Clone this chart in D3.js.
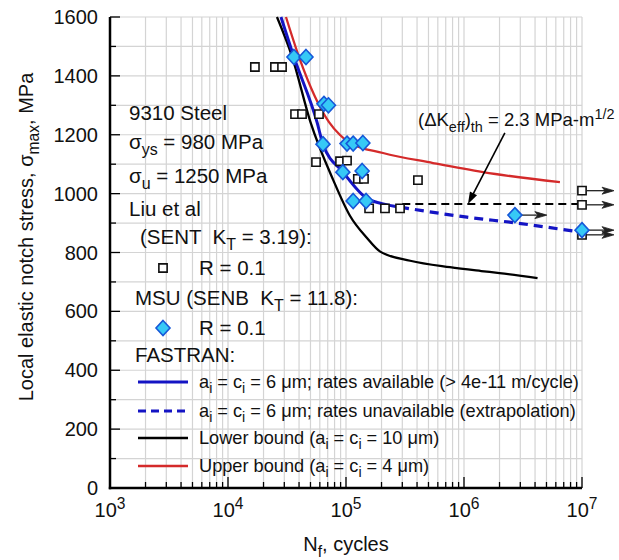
<!doctype html>
<html lang="en">
<head>
<meta charset="UTF-8">
<title>Notch stress vs life</title>
<style>
  html, body { margin: 0; padding: 0; background: #fff; }
  svg { display: block; font-family: 'Liberation Sans', Arial, sans-serif; }
  text { white-space: pre; }
</style>
</head>
<body>
<svg width="619" height="560"></svg>
<script src="https://d3js.org/d3.v7.min.js"></script>
<script>
// axis ticks
const xTickValues = [1e3, 1e4, 1e5, 1e6, 1e7];
const xTickExponents = ['3', '4', '5', '6', '7'];
const yTickValues = [0, 200, 400, 600, 800, 1000, 1200, 1400, 1600];

// Liu et al (SENT, KT = 3.19), R = 0.1
const liuCycles = [1.69e4, 2.5e4, 2.87e4, 3.7e4, 4.24e4, 5.9e4, 5.57e4, 8.9e4, 1.02e5,
                   1.26e5, 1.42e5, 4.07e5, 1.57e5, 2.14e5, 2.87e5, 1e7, 1e7, 1e7];
const liuStress = [1430, 1430, 1430, 1270, 1270, 1270, 1107, 1110, 1112,
                   1050, 1050, 1046, 950, 950, 950, 1010, 962, 860];
const liuRunout = [0, 0, 0, 0, 0, 0, 0, 0, 0, 0, 0, 0, 0, 0, 0, 1, 1, 1];

// MSU (SENB, KT = 11.8), R = 0.1
const msuCycles = [3.62e4, 4.58e4, 6.5e4, 7.1e4, 6.38e4, 1.02e5, 1.15e5, 1.39e5,
                   9.4e4, 1.37e5, 1.15e5, 1.48e5, 2.7e6, 1e7];
const msuStress = [1464, 1464, 1305, 1300, 1168, 1170, 1170, 1172,
                   1073, 1077, 975, 975, 927, 876];
const msuRunout = [0, 0, 0, 0, 0, 0, 0, 0, 0, 0, 0, 0, 1, 1];

// FASTRAN curves
const sixAvailCycles = [2.81e4, 3.62e4, 5.68e4, 6.38e4, 9.44e4, 1.51e5, 2.02e5, 2.87e5];
const sixAvailStress = [1600, 1464, 1243, 1168, 1073, 983, 966, 954];
const sixExtrapCycles = [2.87e5, 1.06e6, 2.81e6, 8.4e6];
const sixExtrapStress = [954, 920, 900, 873];
const lowerCycles = [2.6e4, 3.5e4, 5.0e4, 7.8e4, 1.08e5, 1.5e5, 1.95e5, 3.5e5, 7.6e5, 1.4e6, 2.0e6, 4.2e6];
const lowerStress = [1600, 1464, 1243, 1046, 925, 850, 803, 772, 750, 737, 730, 713];
const upperCycles = [3.1e4, 4.0e4, 7.18e4, 8.9e4, 1.08e5, 2.06e5, 5.46e5, 1.45e6, 6.5e6];
const upperStress = [1600, 1464, 1243, 1199, 1172, 1138, 1104, 1073, 1039];

// threshold line (dK_eff)th and its pointer
const thresholdCycles = [3e5, 1e7];
const thresholdStress = [965, 965];
const pointerCycles = [2.22e6, 1.08e6];
const pointerStress = [1206, 965];

const legendLabels = [
  [['a'], ['i', 'sub'], [' = c'], ['i', 'sub'], [' = 6 \u03bcm; rates available (> 4e-11 m/cycle)']],
  [['a'], ['i', 'sub'], [' = c'], ['i', 'sub'], [' = 6 \u03bcm; rates unavailable (extrapolation)']],
  [['Lower bound (a'], ['i', 'sub'], [' = c'], ['i', 'sub'], [' = 10 \u03bcm)']],
  [['Upper bound (a'], ['i', 'sub'], [' = c'], ['i', 'sub'], [' = 4 \u03bcm)']]
];

const BLUE = '#1414c4', RED = '#d42a2a', BLACK = '#000';

const svg = d3.select('svg');
svg.append('rect').attr('width', 619).attr('height', 560).attr('fill', '#fff');

const x = d3.scaleLog().domain([1e3, 1e7]).range([110, 582]);
const y = d3.scaleLinear().domain([0, 1600]).range([488, 17]);

// rich text helper: parts of [text, 'sub'|'sup']
function richText(g, px, py, parts, size, anchor) {
  const t = g.append('text').attr('x', px).attr('y', py)
    .attr('font-size', size).attr('text-anchor', anchor || 'start').attr('fill', '#111');
  let shift = 0;
  parts.forEach(([s, kind]) => {
    const target = kind === 'sub' ? size * 0.3 : kind === 'sup' ? -size * 0.4 : 0;
    t.append('tspan')
      .attr('dy', target - shift)
      .attr('font-size', kind ? size * 0.78 : size)
      .text(s);
    shift = target;
  });
  return t;
}

// grid
const gridX = [];
for (let k = 3; k < 7; k++) for (let n = 1; n <= 9; n++) gridX.push(n * Math.pow(10, k));
gridX.push(1e7);
const gridY = d3.range(100, 1601, 100);

const grid = svg.append('g').attr('stroke', '#d4d4d4').attr('stroke-width', 1.2);
grid.selectAll('line.gx').data(gridX).enter().append('line')
  .attr('x1', d => x(d)).attr('x2', d => x(d)).attr('y1', y(0)).attr('y2', y(1600));
grid.selectAll('line.gy').data(gridY).enter().append('line')
  .attr('y1', d => y(d)).attr('y2', d => y(d)).attr('x1', x(1e3)).attr('x2', x(1e7));

// axes
const axes = svg.append('g').attr('stroke', '#000');
axes.selectAll('line.xt').data(gridX).enter().append('line')
  .attr('x1', d => x(d)).attr('x2', d => x(d))
  .attr('y1', y(0)).attr('y2', d => y(0) - (xTickValues.includes(d) ? 11 : 6))
  .attr('stroke-width', 1.3);
axes.selectAll('line.yt').data(d3.range(0, 1601, 100)).enter().append('line')
  .attr('y1', d => y(d)).attr('y2', d => y(d))
  .attr('x1', x(1e3)).attr('x2', d => x(1e3) + (d % 200 === 0 ? 10 : 6))
  .attr('stroke-width', 1.3);
axes.append('line').attr('x1', x(1e3)).attr('x2', x(1e3)).attr('y1', y(1600)).attr('y2', y(0) + 1.2).attr('stroke-width', 2.5);
axes.append('line').attr('x1', x(1e3) - 1.2).attr('x2', x(1e7)).attr('y1', y(0)).attr('y2', y(0)).attr('stroke-width', 2.5);

// tick labels
xTickValues.forEach((v, i) => {
  richText(svg, x(v), 517, [['10'], [xTickExponents[i], 'sup']], 20, 'middle');
});
svg.selectAll('text.yl').data(yTickValues).enter().append('text')
  .attr('x', 98).attr('y', d => y(d) + 7).attr('text-anchor', 'end')
  .attr('font-size', 20).attr('fill', '#111').text(d => d);

// axis titles
richText(svg, 346, 551, [['N'], ['f', 'sub'], [', cycles']], 20, 'middle');
const yTitle = svg.append('g').attr('transform', 'translate(33,237) rotate(-90)');
richText(yTitle, 0, 0, [['Local elastic notch stress, \u03c3'], ['max', 'sub'], [', MPa']], 20, 'middle');

// material / data source notes
const notes = svg.append('g');
richText(notes, 129, 120, [['9310 Steel']], 20.5);
richText(notes, 129, 149, [['\u03c3'], ['ys', 'sub'], [' = 980 MPa']], 20.5);
richText(notes, 129, 183, [['\u03c3'], ['u', 'sub'], [' = 1250 MPa']], 20.5);
richText(notes, 129, 216, [['Liu et al']], 20.5);
richText(notes, 140, 244, [['(SENT  K'], ['T', 'sub'], [' = 3.19):']], 20.5);
richText(notes, 199, 275, [['R = 0.1']], 20.5);
richText(notes, 135, 305, [['MSU (SENB  K'], ['T', 'sub'], [' = 11.8):']], 20.5);
richText(notes, 199, 335, [['R = 0.1']], 20.5);
richText(notes, 135, 362, [['FASTRAN:']], 20.5);

// legend
const legendY = [382, 411, 438, 466];
const legendStyles = [
  { stroke: BLUE, width: 3, dash: null },
  { stroke: BLUE, width: 3, dash: '8,5' },
  { stroke: BLACK, width: 2.4, dash: null },
  { stroke: RED, width: 2.4, dash: null }
];
legendLabels.forEach((parts, i) => {
  const st = legendStyles[i];
  svg.append('line').attr('x1', 138).attr('x2', 188)
    .attr('y1', legendY[i]).attr('y2', legendY[i])
    .attr('stroke', st.stroke).attr('stroke-width', st.width)
    .attr('stroke-dasharray', st.dash);
  richText(svg, 199, legendY[i] + 6, parts, 18.2);
});

// curves
const line = d3.line().x(d => x(d[0])).y(d => y(d[1])).curve(d3.curveMonotoneX);
const curve = (n, s) => n.map((v, i) => [v, s[i]]);
const curves = svg.append('g').attr('fill', 'none');
curves.append('path').attr('d', line(curve(lowerCycles, lowerStress)))
  .attr('stroke', BLACK).attr('stroke-width', 2.3);
curves.append('path').attr('d', line(curve(upperCycles, upperStress)))
  .attr('stroke', RED).attr('stroke-width', 2.3);
curves.append('path').attr('d', line(curve(sixAvailCycles, sixAvailStress)))
  .attr('stroke', BLUE).attr('stroke-width', 3);
curves.append('path').attr('d', line(curve(sixExtrapCycles, sixExtrapStress)))
  .attr('stroke', BLUE).attr('stroke-width', 3.2).attr('stroke-dasharray', '9,6');
curves.append('path').attr('d', d3.line().x(d => x(d[0])).y(d => y(d[1]))(curve(thresholdCycles, thresholdStress)))
  .attr('stroke', BLACK).attr('stroke-width', 2).attr('stroke-dasharray', '8,5');

// runout arrows
function runoutArrow(cx, cy) {
  const g = svg.append('g').attr('stroke', '#222').attr('fill', '#222');
  g.append('line').attr('x1', cx + 5).attr('x2', cx + 30).attr('y1', cy).attr('y2', cy).attr('stroke-width', 1.3);
  g.append('path').attr('d', `M${cx + 32},${cy} L${cx + 20},${cy - 3.5} L${cx + 23},${cy} L${cx + 20},${cy + 3.5} Z`)
    .attr('stroke-width', 0.8);
}
liuCycles.forEach((n, i) => { if (liuRunout[i]) runoutArrow(x(n), y(liuStress[i])); });
msuCycles.forEach((n, i) => { if (msuRunout[i]) runoutArrow(x(n), y(msuStress[i])); });

// markers
const squarePath = d3.symbol().type(d3.symbolSquare).size(68);
const diamondPath = 'M0,-7.5 L7,0 L0,7.5 L-7,0 Z';
function square(cx, cy) {
  svg.append('path').attr('d', squarePath()).attr('transform', `translate(${cx},${cy})`)
    .attr('fill', '#fff').attr('stroke', '#111').attr('stroke-width', 1.6);
}
function diamond(cx, cy) {
  svg.append('path').attr('d', diamondPath).attr('transform', `translate(${cx},${cy})`)
    .attr('fill', '#36c9f6').attr('stroke', '#1658d8').attr('stroke-width', 1.6);
}
liuCycles.forEach((n, i) => square(x(n), y(liuStress[i])));
msuCycles.forEach((n, i) => diamond(x(n), y(msuStress[i])));
square(163, 268);
diamond(163, 328);

// threshold annotation
const px0 = x(pointerCycles[0]), py0 = y(pointerStress[0]);
const px1 = x(pointerCycles[1]), py1 = y(pointerStress[1]);
const ang = Math.atan2(py1 - py0, px1 - px0);
const hl = 12, hw = 4;
svg.append('line').attr('x1', px0).attr('y1', py0)
  .attr('x2', px1 - Math.cos(ang) * 8).attr('y2', py1 - Math.sin(ang) * 8)
  .attr('stroke', '#000').attr('stroke-width', 1.6);
svg.append('path').attr('fill', '#000')
  .attr('d', `M${px1},${py1} L${px1 - hl * Math.cos(ang) - hw * Math.sin(ang)},${py1 - hl * Math.sin(ang) + hw * Math.cos(ang)} L${px1 - hl * Math.cos(ang) + hw * Math.sin(ang)},${py1 - hl * Math.sin(ang) - hw * Math.cos(ang)} Z`);
richText(svg, 418, 126, [['(\u0394K'], ['eff', 'sub'], [')'], ['th', 'sub'], [' = 2.3 MPa-m'], ['1/2', 'sup']], 18.5);
</script>
</body>
</html>
